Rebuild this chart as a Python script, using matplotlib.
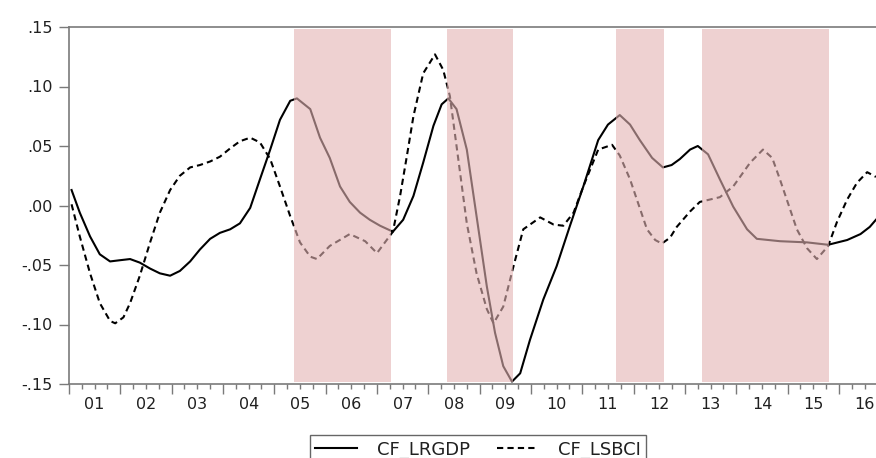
import numpy as np
import matplotlib as mpl
mpl.use("Agg")
import matplotlib.pyplot as plt
from matplotlib.ticker import FixedLocator, FuncFormatter

# cyclical components (time in fractional years)
gdp_t = [2001.05, 2001.21, 2001.41, 2001.60, 2001.80, 2001.99, 2002.19, 2002.38,
         2002.58, 2002.77, 2002.97, 2003.16, 2003.36, 2003.55, 2003.75, 2003.94,
         2004.14, 2004.33, 2004.53, 2004.72, 2004.92, 2005.11, 2005.31, 2005.44,
         2005.70, 2005.89, 2006.08, 2006.28, 2006.47, 2006.67, 2006.86, 2007.06,
         2007.31, 2007.51, 2007.71, 2007.90, 2008.10, 2008.26, 2008.39, 2008.55,
         2008.75, 2008.94, 2009.14, 2009.30, 2009.46, 2009.63, 2009.79, 2009.98,
         2010.24, 2010.50, 2010.76, 2011.02, 2011.31, 2011.50, 2011.73, 2011.93,
         2012.12, 2012.36, 2012.57, 2012.74, 2012.90, 2013.10, 2013.25, 2013.45,
         2013.68, 2013.94, 2014.21, 2014.40, 2014.85, 2015.38, 2015.79, 2016.16,
         2016.42, 2016.60, 2016.72]
gdp_v = [0.013, -0.006, -0.026, -0.041, -0.047, -0.046, -0.045, -0.048,
         -0.053, -0.057, -0.059, -0.055, -0.047, -0.037, -0.028, -0.023,
         -0.020, -0.015, -0.002, 0.022, 0.047, 0.072, 0.088, 0.090,
         0.081, 0.057, 0.040, 0.016, 0.003, -0.006, -0.012, -0.017,
         -0.022, -0.012, 0.008, 0.036, 0.067, 0.085, 0.090, 0.081,
         0.047, -0.009, -0.068, -0.107, -0.135, -0.148, -0.141, -0.113,
         -0.079, -0.051, -0.017, 0.016, 0.055, 0.068, 0.076, 0.068,
         0.055, 0.040, 0.032, 0.034, 0.039, 0.047, 0.050, 0.043,
         0.022, -0.001, -0.020, -0.028, -0.030, -0.031, -0.033, -0.029,
         -0.024, -0.018, -0.012]

sbci_t = [2001.05, 2001.21, 2001.41, 2001.60, 2001.80, 2001.90, 2002.06, 2002.19,
          2002.38, 2002.58, 2002.77, 2002.97, 2003.16, 2003.36, 2003.55, 2003.75,
          2003.94, 2004.14, 2004.33, 2004.53, 2004.72, 2004.92, 2005.11, 2005.31,
          2005.50, 2005.70, 2005.83, 2006.08, 2006.47, 2006.77, 2007.00, 2007.31,
          2007.45, 2007.58, 2007.71, 2007.90, 2008.13, 2008.29, 2008.42, 2008.55,
          2008.75, 2008.94, 2009.14, 2009.27, 2009.46, 2009.66, 2009.85, 2010.18,
          2010.44, 2010.63, 2010.83, 2011.02, 2011.31, 2011.58, 2011.73, 2011.93,
          2012.26, 2012.42, 2012.55, 2012.71, 2012.84, 2013.10, 2013.29, 2013.68,
          2013.94, 2014.27, 2014.52, 2014.70, 2014.85, 2015.18, 2015.38, 2015.57,
          2015.79, 2015.96, 2016.16, 2016.35, 2016.55, 2016.72]
sbci_v = [0.001, -0.026, -0.057, -0.082, -0.097, -0.099, -0.094, -0.082,
          -0.059, -0.031, -0.006, 0.013, 0.025, 0.032, 0.034, 0.037,
          0.041, 0.048, 0.054, 0.057, 0.053, 0.039, 0.016, -0.009,
          -0.031, -0.043, -0.045, -0.034, -0.024, -0.030, -0.040, -0.022,
          0.008, 0.041, 0.075, 0.111, 0.127, 0.114, 0.092, 0.050,
          -0.015, -0.057, -0.087, -0.099, -0.085, -0.051, -0.020, -0.010,
          -0.016, -0.017, -0.006, 0.016, 0.047, 0.051, 0.042, 0.022,
          -0.020, -0.029, -0.032, -0.027, -0.018, -0.005, 0.003, 0.007,
          0.016, 0.036, 0.047, 0.040, 0.022, -0.020, -0.036, -0.045,
          -0.034, -0.014, 0.005, 0.019, 0.028, 0.024]

# shaded periods (start, end)
shade_start = [2005.38, 2008.36, 2011.66, 2013.33]
shade_end = [2007.27, 2009.65, 2012.59, 2015.81]

years = list(range(2001, 2017))
y_ticks = [0.15, 0.10, 0.05, 0.00, -0.05, -0.10, -0.15]
y_labels = [".15", ".10", ".05", ".00", "-.05", "-.10", "-.15"]

AXIS_GRAY = "#7a7a7a"
TEXT_COLOR = "#202020"

plt.rcParams["font.family"] = ["DejaVu Sans"]

fig = plt.figure(figsize=(8.76, 4.58), dpi=100)
ax = fig.add_axes([69 / 876, 1 - 384 / 458, 1 - 69 / 876, (384 - 27) / 458])

ax.plot(gdp_t, gdp_v, color="black", lw=1.5, label="CF_LRGDP", zorder=2,
        solid_joinstyle="round")
ax.plot(sbci_t, sbci_v, color="black", lw=1.5, ls=(0, (3, 2)), label="CF_LSBCI",
        zorder=2, dash_joinstyle="round")

for s, e in zip(shade_start, shade_end):
    ax.axvspan(s, e, ymin=0.006, ymax=0.994, facecolor=(0.89, 0.70, 0.70),
               alpha=0.6, lw=0, zorder=3)

ax.set_xlim(2001.0, 2001.0 + (876 - 69) / 51.33)
ax.set_ylim(-0.15, 0.15)

ax.spines["right"].set_visible(False)
for side in ["left", "top", "bottom"]:
    ax.spines[side].set_color(AXIS_GRAY)
    ax.spines[side].set_linewidth(1.2)

ax.yaxis.set_major_locator(FixedLocator(y_ticks))
ax.set_yticklabels(y_labels)
ax.tick_params(axis="y", direction="out", length=7, width=1.0, color=AXIS_GRAY,
               labelsize=11.5, labelcolor=TEXT_COLOR, pad=5)

# year boundaries as major ticks, quarters as minor; labels sit mid-year
ax.xaxis.set_major_locator(FixedLocator(years))
ax.xaxis.set_major_formatter(FuncFormatter(lambda v, p: ""))
quarters = [y + q for y in years for q in (0.25, 0.5, 0.75)]
ax.xaxis.set_minor_locator(FixedLocator(quarters))
ax.xaxis.set_minor_formatter(FuncFormatter(
    lambda v, p: f"{int(v) % 100:02d}" if abs(v - int(v) - 0.5) < 0.01 else ""))
ax.tick_params(axis="x", which="major", direction="out", length=7, width=1.0,
               color=AXIS_GRAY)
ax.tick_params(axis="x", which="minor", direction="out", length=3.5, width=1.0,
               color=AXIS_GRAY, labelsize=11.5, labelcolor=TEXT_COLOR, pad=6)

leg = fig.legend(loc="upper center", bbox_to_anchor=(478 / 876, 1 - 435 / 458),
                 ncol=2, fontsize=13, frameon=True, fancybox=False,
                 handlelength=2.3, handletextpad=1.1, columnspacing=1.5,
                 borderpad=0.3, borderaxespad=0)
leg.get_frame().set_edgecolor("#404040")
leg.get_frame().set_linewidth(1.0)
for txt in leg.get_texts():
    txt.set_color(TEXT_COLOR)

fig.savefig("out.png", dpi=100)
